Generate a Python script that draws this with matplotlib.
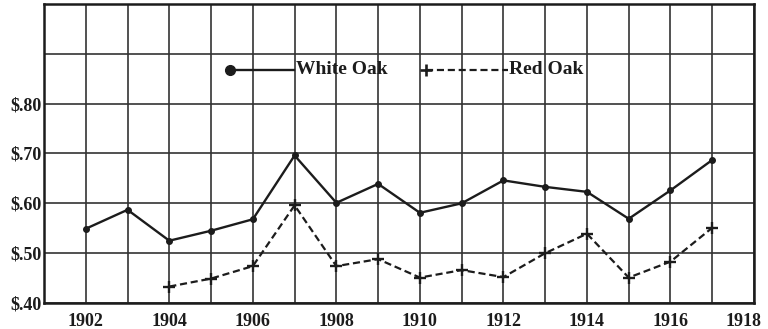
import matplotlib
matplotlib.use("Agg")
import matplotlib.pyplot as plt
import matplotlib.transforms as mtransforms
from matplotlib.ticker import FixedLocator, NullLocator

# price per unit, white and red oak
years = [1902, 1903, 1904, 1905, 1906, 1907, 1908, 1909, 1910,
         1911, 1912, 1913, 1914, 1915, 1916, 1917]
white_oak = [0.549, 0.587, 0.525, 0.545, 0.568, 0.696, 0.601, 0.639, 0.581,
             0.600, 0.646, 0.633, 0.623, 0.569, 0.626, 0.687]

red_years = [1904, 1905, 1906, 1907, 1908, 1909, 1910,
             1911, 1912, 1913, 1914, 1915, 1916, 1917]
red_oak = [0.433, 0.449, 0.474, 0.596, 0.474, 0.488, 0.451,
           0.466, 0.452, 0.500, 0.539, 0.451, 0.483, 0.551]

x_labels = [1902, 1904, 1906, 1908, 1910, 1912, 1914, 1916, 1918]
y_labels = [0.40, 0.50, 0.60, 0.70, 0.80]
grid_x = list(range(1901, 1919))
grid_y = [0.40, 0.50, 0.60, 0.70, 0.80, 0.90, 1.00]

INK = "#1c1c1c"
FONT = dict(family="Liberation Serif", weight="bold", size=13, color=INK)
DASH = (0, (3.2, 1.7))

fig = plt.figure(figsize=(7.68, 3.29), dpi=100, facecolor="white")
ax = fig.add_axes([0.0573, 0.079, 0.9245, 0.909])

ax.set_xlim(1901, 1918)
ax.set_ylim(0.40, 1.00)

# hand-ruled grid
for gx in grid_x:
    ax.axvline(gx, color="#333333", lw=1.2, zorder=1)
for gy in grid_y:
    ax.axhline(gy, color="#333333", lw=1.2, zorder=1)

ax.plot(years, white_oak, color=INK, lw=1.7, marker="o", ms=4,
        mfc=INK, mec=INK, zorder=3)
ax.plot(red_years, red_oak, color=INK, lw=1.6, ls=DASH,
        marker="+", ms=9, mew=1.7, zorder=3)

# key drawn inside the plot area
ky = 0.78
key_font = dict(FONT, size=14)
ax.plot([0.2625, 0.3525], [ky, ky], transform=ax.transAxes, color=INK,
        lw=1.7, zorder=4)
ax.plot([0.2625], [ky], transform=ax.transAxes, color=INK, marker="o",
        ms=7, zorder=4)
ax.text(0.3545, ky, "White Oak", transform=ax.transAxes, va="center",
        ha="left", **key_font)
ax.plot([0.5385, 0.653], [ky, ky], transform=ax.transAxes, color=INK,
        lw=1.6, ls=DASH, zorder=4)
ax.plot([0.5385], [ky], transform=ax.transAxes, color=INK, marker="+",
        ms=9, mew=1.9, zorder=4)
ax.text(0.655, ky, "Red Oak", transform=ax.transAxes, va="center",
        ha="left", **key_font)

ax.xaxis.set_major_locator(FixedLocator(x_labels))
ax.set_xticklabels([str(y) for y in x_labels])
ax.yaxis.set_major_locator(FixedLocator(y_labels))
ax.set_yticklabels([r"\$." + ("%.2f" % v)[2:] for v in y_labels])
ax.xaxis.set_minor_locator(NullLocator())
ax.tick_params(axis="both", length=0)
ax.tick_params(axis="x", pad=7)
ax.tick_params(axis="y", pad=2)
for lab in ax.get_xticklabels() + ax.get_yticklabels():
    lab.set_fontfamily(FONT["family"])
    lab.set_fontweight(FONT["weight"])
    lab.set_fontsize(FONT["size"])
    lab.set_color(INK)

# last year label sits tucked in from the frame edge
last = ax.get_xticklabels()[-1]
last.set_transform(last.get_transform() +
                   mtransforms.ScaledTranslation(-11 / 100, 0,
                                                 fig.dpi_scale_trans))

for side in ax.spines.values():
    side.set_linewidth(1.8)
    side.set_color(INK)

fig.savefig("out.png", dpi=100, facecolor="white")
